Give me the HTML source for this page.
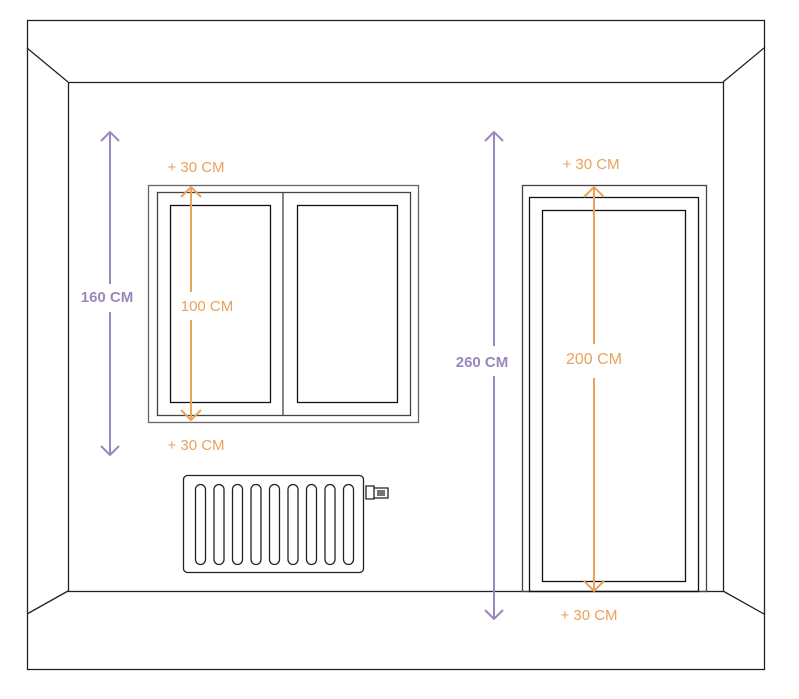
<!DOCTYPE html>
<html><head><style>body{margin:0;background:#fff}svg{display:block}</style></head><body>
<svg width="799" height="699" viewBox="0 0 799 699" xmlns="http://www.w3.org/2000/svg" font-family="Liberation Sans, sans-serif">
<g fill="none" stroke="#222" stroke-width="1.3">
<rect x="27.5" y="20.5" width="737" height="649"/>
<rect x="68.5" y="82.5" width="655" height="509"/>
<line x1="27" y1="48" x2="68" y2="82"/><line x1="764" y1="48" x2="723" y2="82"/>
<line x1="27" y1="614" x2="68" y2="591"/><line x1="764" y1="614" x2="723" y2="591"/>
</g>
<g fill="none" stroke="#444" stroke-width="1.3">
<rect x="148.5" y="185.5" width="270" height="237" stroke="#666"/>
<rect x="157.5" y="192.5" width="253" height="223"/>
<line x1="283" y1="192" x2="283" y2="415"/>
<rect x="170.5" y="205.5" width="100" height="197" stroke="#111"/>
<rect x="297.5" y="205.5" width="100" height="197" stroke="#111"/>
<rect x="522.5" y="185.5" width="184" height="406"/>
<rect x="529.5" y="197.5" width="169" height="394" stroke="#111"/>
<rect x="542.5" y="210.5" width="143" height="371" stroke="#111"/>
<rect x="183.5" y="475.5" width="180" height="97" rx="4" stroke="#222"/>
<g stroke="#222">
<rect x="195.5" y="484.5" width="10" height="80" rx="5"/><rect x="214" y="484.5" width="10" height="80" rx="5"/><rect x="232.5" y="484.5" width="10" height="80" rx="5"/><rect x="251" y="484.5" width="10" height="80" rx="5"/><rect x="269.5" y="484.5" width="10" height="80" rx="5"/><rect x="288" y="484.5" width="10" height="80" rx="5"/><rect x="306.5" y="484.5" width="10" height="80" rx="5"/><rect x="325" y="484.5" width="10" height="80" rx="5"/><rect x="343.5" y="484.5" width="10" height="80" rx="5"/>
<path d="M366 486h8v13h-8z M374 488h14v10h-14z M377 491h8M377 493h8M377 495h8"/>
</g>
</g>
<g fill="none" stroke="#9b87bd" stroke-width="2">
<line x1="110" y1="132" x2="110" y2="284"/><line x1="110" y1="312" x2="110" y2="455"/>
<path d="M101 141l9-9 9 9M101 446l9 9 9-9"/>
<line x1="494" y1="132" x2="494" y2="346"/><line x1="494" y1="376" x2="494" y2="619"/>
<path d="M485 141l9-9 9 9M485 610l9 9 9-9"/>
</g>
<g fill="none" stroke="#e9a35a" stroke-width="2">
<line x1="191" y1="188" x2="191" y2="292"/><line x1="191" y1="320" x2="191" y2="420"/>
<path d="M181 197l10-10 10 10M181 410l10 10 10-10"/>
<line x1="594" y1="188" x2="594" y2="344"/><line x1="594" y1="378" x2="594" y2="591"/>
<path d="M584 197l10-10 10 10M584 581l10 10 10-10"/>
</g>
<g font-size="15" fill="#9b87bd" font-weight="bold" text-anchor="middle">
<text x="107" y="302">160 CM</text><text x="482" y="367">260 CM</text>
</g>
<g font-size="15" fill="#e9a35a" text-anchor="middle">
<text x="196" y="172">+ 30 CM</text><text x="196" y="450">+ 30 CM</text>
<text x="207" y="311">100 CM</text><text x="594" y="364" font-size="16">200 CM</text>
<text x="591" y="169">+ 30 CM</text><text x="589" y="620">+ 30 CM</text>
</g>
</svg>
</body></html>
